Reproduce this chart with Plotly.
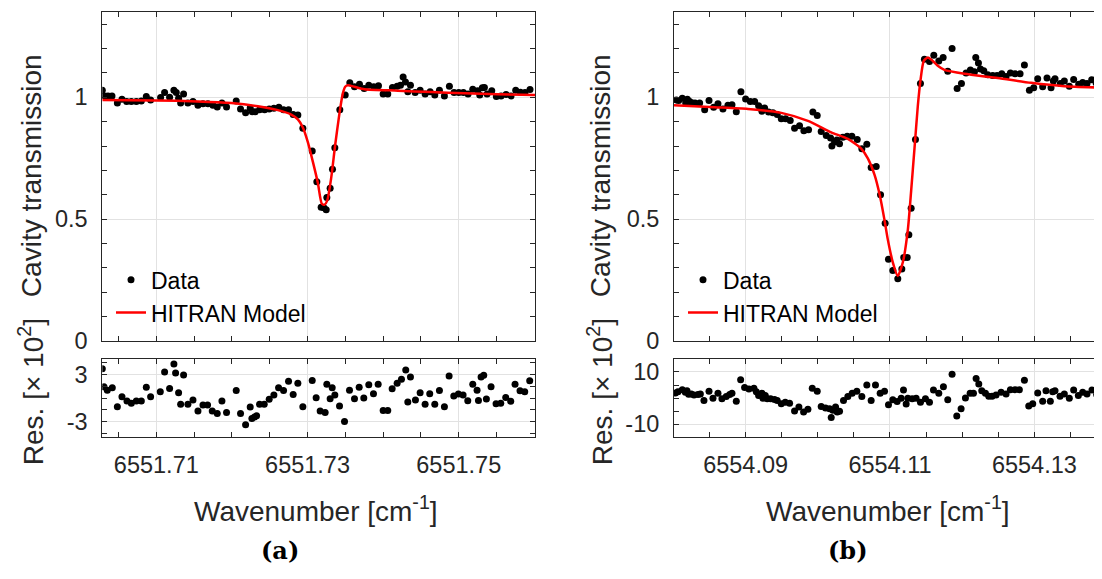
import plotly.graph_objects as go

# ---------------- data: panel (a) ----------------
a_x = [6551.70286, 6551.70317, 6551.70361, 6551.70414, 6551.70485, 6551.70546, 6551.70608, 6551.70670,
       6551.70736, 6551.70802, 6551.70868, 6551.70925, 6551.71057, 6551.71110, 6551.71176, 6551.71233,
       6551.71264, 6551.71295, 6551.71322, 6551.71361, 6551.71418, 6551.71485, 6551.71551, 6551.71617,
       6551.71683, 6551.71749, 6551.71806, 6551.71868, 6551.71929, 6551.72057, 6551.72114, 6551.72181,
       6551.72242, 6551.72269, 6551.72308, 6551.72366, 6551.72432, 6551.72493, 6551.72555, 6551.72621,
       6551.72683, 6551.72749, 6551.72810, 6551.72872, 6551.72938, 6551.73062, 6551.73123, 6551.73180,
       6551.73216, 6551.73247, 6551.73255, 6551.73299, 6551.73330, 6551.73361, 6551.73427, 6551.73498,
       6551.73559, 6551.73621, 6551.73687, 6551.73749, 6551.73810, 6551.73876, 6551.73938, 6551.74000,
       6551.74061, 6551.74123, 6551.74185, 6551.74229, 6551.74264, 6551.74295, 6551.74326, 6551.74361,
       6551.74423, 6551.74489, 6551.74555, 6551.74621, 6551.74683, 6551.74744, 6551.74810, 6551.74876,
       6551.74938, 6551.75000, 6551.75061, 6551.75123, 6551.75185, 6551.75251, 6551.75277, 6551.75312,
       6551.75339, 6551.75374, 6551.75436, 6551.75497, 6551.75559, 6551.75625, 6551.75691, 6551.75753,
       6551.75815, 6551.75876, 6551.75942]
a_y = [1.029, 1.005, 1.005, 1.005, 0.976, 0.992, 0.983, 0.983,
       0.983, 0.985, 1.003, 0.989, 0.999, 1.019, 1.000, 1.029,
       1.019, 0.996, 0.976, 1.013, 0.976, 0.983, 0.967, 0.973,
       0.973, 0.967, 0.960, 0.976, 0.960, 0.985, 0.952, 0.936,
       0.956, 0.941, 0.941, 0.949, 0.949, 0.952, 0.955, 0.959,
       0.949, 0.949, 0.929, 0.927, 0.873, 0.780, 0.653, 0.549,
       0.547, 0.539, 0.589, 0.627, 0.705, 0.793, 0.949, 1.009,
       1.059, 1.043, 1.053, 1.036, 1.049, 1.043, 1.047, 1.013,
       1.013, 1.040, 1.045, 1.049, 1.083, 1.063, 1.023, 1.049,
       1.019, 1.029, 1.013, 1.023, 1.009, 1.029, 1.005, 1.045,
       1.019, 1.019, 1.019, 1.013, 1.033, 1.027, 1.009, 1.039,
       1.040, 1.013, 1.027, 1.003, 1.005, 1.011, 1.005, 1.029,
       1.020, 1.019, 1.032]

a_model_x = [6551.70286, 6551.71000, 6551.71551, 6551.71991, 6551.72344, 6551.72608, 6551.72784,
             6551.72872, 6551.72938, 6551.73004, 6551.73070, 6551.73136, 6551.73189, 6551.73224,
             6551.73260, 6551.73313, 6551.73365, 6551.73423, 6551.73467, 6551.73498, 6551.73533,
             6551.73621, 6551.73753, 6551.74194, 6551.74634, 6551.75075, 6551.75515, 6551.76008]
a_model_y = [0.989, 0.987, 0.983, 0.976, 0.963, 0.947, 0.929,
             0.909, 0.876, 0.816, 0.736, 0.649, 0.563, 0.559,
             0.576, 0.669, 0.803, 0.936, 1.016, 1.043, 1.049,
             1.043, 1.033, 1.027, 1.021, 1.016, 1.012, 1.009]

a_res_x = [6551.70286, 6551.70308, 6551.70352, 6551.70418, 6551.70485, 6551.70546, 6551.70612, 6551.70670,
           6551.70736, 6551.70802, 6551.70868, 6551.70925, 6551.71053, 6551.71110, 6551.71176, 6551.71233,
           6551.71255, 6551.71295, 6551.71322, 6551.71361, 6551.71418, 6551.71485, 6551.71551, 6551.71617,
           6551.71678, 6551.71740, 6551.71806, 6551.71868, 6551.71929, 6551.72057, 6551.72114, 6551.72181,
           6551.72242, 6551.72264, 6551.72299, 6551.72326, 6551.72366, 6551.72427, 6551.72493, 6551.72555,
           6551.72617, 6551.72683, 6551.72749, 6551.72810, 6551.72872, 6551.72938, 6551.73062, 6551.73114,
           6551.73167, 6551.73233, 6551.73255, 6551.73299, 6551.73326, 6551.73361, 6551.73423, 6551.73489,
           6551.73555, 6551.73621, 6551.73683, 6551.73744, 6551.73810, 6551.73872, 6551.73934, 6551.74000,
           6551.74061, 6551.74119, 6551.74185, 6551.74242, 6551.74299, 6551.74326, 6551.74361, 6551.74427,
           6551.74489, 6551.74555, 6551.74616, 6551.74683, 6551.74744, 6551.74810, 6551.74872, 6551.74934,
           6551.74995, 6551.75057, 6551.75119, 6551.75185, 6551.75242, 6551.75260, 6551.75295, 6551.75330,
           6551.75365, 6551.75427, 6551.75493, 6551.75555, 6551.75621, 6551.75687, 6551.75744, 6551.75810,
           6551.75872, 6551.75938]
a_res_y = [3.76, 1.44, 1.01, 1.31, -1.10, 0.17, -0.38, -0.68,
           -0.38, -0.38, 1.39, 0.17, 0.80, 3.34, 1.23, 4.35,
           3.21, 0.68, -0.80, 2.96, -0.80, -0.25, -1.65, -0.89,
           -0.89, -1.65, -1.99, -0.38, -1.86, 0.97, -1.99, -3.42,
           -1.14, -2.62, -2.41, -2.28, -0.80, -0.80, -0.17, 0.38,
           1.31, 0.97, 2.15, 0.46, 1.90, -1.10, 2.24, 0.04,
           -1.65, -1.86, 1.77, -0.08, 1.31, 0.38, -1.01, -3.00,
           1.01, -0.08, 1.39, 0.00, 1.69, 0.55, 1.77, -1.60,
           -1.60, 1.18, 1.90, 2.41, 3.59, -0.51, 2.70, -0.25,
           0.68, -0.80, 0.55, -0.80, 0.97, -1.10, 2.83, 0.25,
           0.51, 0.38, -0.34, 1.77, 1.01, -0.30, 2.70, 2.92,
           -0.13, 1.44, -0.72, -0.68, 0.08, -0.42, 1.77, 0.93,
           0.80, 2.20]

# ---------------- data: panel (b) ----------------
b_x = [6554.08040, 6554.08073, 6554.08123, 6554.08170, 6554.08193, 6554.08225, 6554.08262, 6554.08299,
       6554.08363, 6554.08433, 6554.08493, 6554.08557, 6554.08617, 6554.08686, 6554.08755, 6554.08811,
       6554.08871, 6554.08935, 6554.09000, 6554.09065, 6554.09125, 6554.09180, 6554.09226, 6554.09263,
       6554.09318, 6554.09378, 6554.09438, 6554.09494, 6554.09554, 6554.09618, 6554.09678, 6554.09747,
       6554.09807, 6554.09872, 6554.09932, 6554.09992, 6554.10047, 6554.10117, 6554.10177, 6554.10195,
       6554.10232, 6554.10264, 6554.10301, 6554.10347, 6554.10407, 6554.10472, 6554.10546, 6554.10610,
       6554.10679, 6554.10739, 6554.10809, 6554.10869, 6554.10933, 6554.10979, 6554.11039, 6554.11108,
       6554.11164, 6554.11191, 6554.11238, 6554.11261, 6554.11293, 6554.11353, 6554.11422, 6554.11477,
       6554.11547, 6554.11607, 6554.11676, 6554.11736, 6554.11800, 6554.11860, 6554.11930, 6554.11990,
       6554.12054, 6554.12114, 6554.12170, 6554.12188, 6554.12225, 6554.12253, 6554.12299, 6554.12354,
       6554.12423, 6554.12483, 6554.12548, 6554.12608, 6554.12668, 6554.12732, 6554.12802, 6554.12862,
       6554.12931, 6554.12991, 6554.13046, 6554.13115, 6554.13175, 6554.13231, 6554.13263, 6554.13286,
       6554.13360, 6554.13415, 6554.13484, 6554.13544, 6554.13614, 6554.13669, 6554.13729, 6554.13794,
       6554.13854, 6554.13923, 6554.13978]
b_y = [0.989, 0.987, 0.996, 0.976, 0.992, 0.983, 0.976, 0.976,
       0.976, 0.949, 0.987, 0.959, 0.973, 0.952, 0.967, 0.969,
       0.941, 1.023, 0.993, 0.983, 0.983, 0.965, 0.943, 0.956,
       0.939, 0.936, 0.929, 0.912, 0.912, 0.905, 0.873, 0.883,
       0.863, 0.867, 0.939, 0.925, 0.859, 0.843, 0.833, 0.800,
       0.816, 0.825, 0.809, 0.836, 0.840, 0.840, 0.827, 0.789,
       0.807, 0.712, 0.716, 0.600, 0.483, 0.336, 0.289, 0.256,
       0.296, 0.343, 0.343, 0.436, 0.545, 0.827, 1.056, 1.156,
       1.147, 1.172, 1.149, 1.163, 1.107, 1.200, 1.036, 1.056,
       1.099, 1.112, 1.105, 1.163, 1.140, 1.116, 1.109, 1.092,
       1.089, 1.089, 1.096, 1.085, 1.099, 1.096, 1.096, 1.132,
       1.029, 1.039, 1.076, 1.043, 1.079, 1.039, 1.067, 1.076,
       1.056, 1.067, 1.045, 1.073, 1.053, 1.060, 1.056, 1.072,
       1.059, 1.067, 1.052]

b_model_x = [6554.08008, 6554.08571, 6554.09032, 6554.09494, 6554.09863, 6554.10186, 6554.10416,
             6554.10601, 6554.10693, 6554.10785, 6554.10855, 6554.10924, 6554.10970, 6554.11039,
             6554.11108, 6554.11178, 6554.11247, 6554.11293, 6554.11339, 6554.11385, 6554.11422,
             6554.11468, 6554.11524, 6554.11593, 6554.11662, 6554.11754, 6554.12031, 6554.12492,
             6554.12954, 6554.13415, 6554.14006]
b_model_y = [0.967, 0.959, 0.952, 0.936, 0.903, 0.856, 0.829,
             0.789, 0.749, 0.683, 0.603, 0.496, 0.416, 0.323,
             0.267, 0.323, 0.456, 0.616, 0.789, 0.963, 1.069,
             1.149, 1.163, 1.149, 1.129, 1.112, 1.096, 1.079,
             1.059, 1.045, 1.039]

b_res_x = [6554.08027, 6554.08063, 6554.08123, 6554.08165, 6554.08188, 6554.08211, 6554.08248, 6554.08285,
           6554.08340, 6554.08373, 6554.08423, 6554.08493, 6554.08548, 6554.08617, 6554.08672, 6554.08732,
           6554.08779, 6554.08811, 6554.08871, 6554.08931, 6554.08986, 6554.09046, 6554.09115, 6554.09148,
           6554.09180, 6554.09226, 6554.09240, 6554.09272, 6554.09300, 6554.09346, 6554.09401, 6554.09438,
           6554.09494, 6554.09549, 6554.09609, 6554.09678, 6554.09738, 6554.09803, 6554.09863, 6554.09923,
           6554.09992, 6554.10047, 6554.10107, 6554.10163, 6554.10186, 6554.10209, 6554.10246, 6554.10269,
           6554.10301, 6554.10356, 6554.10416, 6554.10476, 6554.10541, 6554.10610, 6554.10679, 6554.10739,
           6554.10799, 6554.10864, 6554.10924, 6554.10979, 6554.11039, 6554.11099, 6554.11155, 6554.11187,
           6554.11224, 6554.11247, 6554.11307, 6554.11362, 6554.11422, 6554.11491, 6554.11547, 6554.11602,
           6554.11676, 6554.11740, 6554.11800, 6554.11860, 6554.11925, 6554.11985, 6554.12045, 6554.12110,
           6554.12156, 6554.12193, 6554.12230, 6554.12271, 6554.12322, 6554.12368, 6554.12414, 6554.12469,
           6554.12539, 6554.12608, 6554.12668, 6554.12732, 6554.12792, 6554.12862, 6554.12922, 6554.12977,
           6554.13046, 6554.13115, 6554.13161, 6554.13221, 6554.13254, 6554.13286, 6554.13355, 6554.13415,
           6554.13484, 6554.13544, 6554.13609, 6554.13669, 6554.13729, 6554.13798, 6554.13863, 6554.13923,
           6554.13983]
b_res_y = [1.95, 2.45, 3.20, 2.20, 2.83, 1.45, 1.57, 1.19,
           1.32, 1.57, -0.94, 2.58, -0.06, 1.82, -0.31, 0.57,
           1.32, 1.82, -1.19, 6.98, 4.09, 3.46, 3.71, 2.45,
           0.94, 1.82, -0.06, 0.94, -0.31, -0.31, -0.57, -0.94,
           -2.20, -1.57, -1.95, -4.97, -3.46, -5.35, -4.34, 3.71,
           2.58, -3.21, -3.84, -4.09, -7.48, -4.72, -3.46, -5.35,
           -5.09, -0.94, 0.57, 1.82, 2.58, 0.57, 4.97, -0.94,
           4.97, 1.82, 2.58, -2.58, -0.69, -1.32, -0.06, 3.07,
           -2.33, -0.06, -0.31, -0.06, -1.57, -0.31, -1.57, 3.07,
           1.82, 4.34, -0.69, 9.12, -6.86, -4.09, 0.06, 1.82,
           1.82, 7.48, 5.35, 2.83, 1.82, 0.69, 0.69, 1.19,
           2.20, 1.57, 3.21, 3.21, 3.21, 6.86, -3.08, -2.20,
           1.95, -1.19, 2.83, -1.19, 2.45, 2.83, 0.69, 1.57,
           -0.06, 3.07, 0.94, 2.20, 1.57, 3.07, 1.32, 2.83,
           0.94]

a_xticks = [6551.71, 6551.73, 6551.75]
b_xticks = [6554.09, 6554.11, 6554.13]
top_yticks = [0, 0.5, 1]
top_yticklabels = ["0", "0.5", "1"]
a_res_ticks = [-3, 3]
a_res_ticklabels = ["-3", "3"]
b_res_ticks = [-10, 10]
b_res_ticklabels = ["-10", "10"]

# ---------------- layout helpers ----------------
W, H = 1102, 579
FONT = "Liberation Sans, Arial, sans-serif"
AX = "#262626"
GRID = "#e2e2e2"
MS = 7


def fx(p):
    return p / W


def fy(p):
    return 1 - p / H


fig = go.Figure()

# panel (a)
fig.add_trace(go.Scatter(x=a_x, y=a_y, mode="markers", name="Data",
                         marker=dict(color="black", size=MS), xaxis="x", yaxis="y", legend="legend"))
fig.add_trace(go.Scatter(x=a_model_x, y=a_model_y, mode="lines", name="HITRAN Model",
                         line=dict(color="#ff0000", width=2.5, shape="spline", smoothing=0.6),
                         xaxis="x", yaxis="y", legend="legend"))
fig.add_trace(go.Scatter(x=a_res_x, y=a_res_y, mode="markers", showlegend=False,
                         marker=dict(color="black", size=MS), xaxis="x2", yaxis="y2"))
# panel (b)
fig.add_trace(go.Scatter(x=b_x, y=b_y, mode="markers", name="Data",
                         marker=dict(color="black", size=MS), xaxis="x3", yaxis="y3", legend="legend2"))
fig.add_trace(go.Scatter(x=b_model_x, y=b_model_y, mode="lines", name="HITRAN Model",
                         line=dict(color="#ff0000", width=2.5, shape="spline", smoothing=0.6),
                         xaxis="x3", yaxis="y3", legend="legend2"))
fig.add_trace(go.Scatter(x=b_res_x, y=b_res_y, mode="markers", showlegend=False,
                         marker=dict(color="black", size=MS), xaxis="x4", yaxis="y4"))

common = dict(showline=True, linecolor=AX, linewidth=1, mirror="ticks", ticks="inside",
              ticklen=5, tickcolor=AX, tickwidth=1, showgrid=True, gridcolor=GRID, gridwidth=1,
              zeroline=False, tickfont=dict(family=FONT, size=23.5, color=AX))


def xaxis(rng, ticks, dom, anchor, labels):
    d = dict(common)
    d.update(range=rng, domain=dom, anchor=anchor, tickmode="array", tickvals=ticks,
             ticktext=[f"{t:.2f}" for t in ticks], showticklabels=labels, ticklabelstandoff=7,
             minor=dict(ticks="inside", ticklen=5, tickcolor=AX, dtick=0.005,
                        tick0=ticks[0], showgrid=False))
    return d


def yaxis(rng, ticks, texts, dom, anchor, mdt):
    d = dict(common)
    d.update(range=rng, domain=dom, anchor=anchor, tickmode="array", tickvals=ticks,
             ticktext=texts, ticklabelstandoff=9,
             minor=dict(ticks="inside", ticklen=5, tickcolor=AX, dtick=mdt, tick0=0, showgrid=False))
    return d


ax_dom = [fx(94.3), fx(527)]
bx_dom = [fx(666), fx(1099)]
top_dom = [fy(340.7), fy(4)]
res_dom = [fy(439), fy(359)]

a_rng = [6551.70286, 6551.76008]
b_rng = [6554.08008, 6554.14006]

fig.update_layout(
    width=W, height=H, margin=dict(l=0, r=0, t=0, b=0),
    paper_bgcolor="white", plot_bgcolor="white",
    font=dict(family=FONT, color=AX),
    xaxis=xaxis(a_rng, a_xticks, ax_dom, "y", False),
    yaxis=yaxis([0, 1.35], top_yticks, top_yticklabels, top_dom, "x", 0.1),
    xaxis2=xaxis(a_rng, a_xticks, ax_dom, "y2", True),
    yaxis2=yaxis([-5, 5], a_res_ticks, a_res_ticklabels, res_dom, "x2", 1.5),
    xaxis3=xaxis(b_rng, b_xticks, bx_dom, "y3", False),
    yaxis3=yaxis([0, 1.35], top_yticks, top_yticklabels, top_dom, "x3", 0.1),
    xaxis4=xaxis(b_rng, b_xticks, bx_dom, "y4", True),
    yaxis4=yaxis([-15, 15], b_res_ticks, b_res_ticklabels, res_dom, "x4", 5),
    legend=dict(x=fx(103), y=fy(256), xanchor="left", yanchor="top", bgcolor="rgba(0,0,0,0)",
                font=dict(family=FONT, size=23, color="black"), tracegroupgap=0),
    legend2=dict(x=fx(675), y=fy(256), xanchor="left", yanchor="top", bgcolor="rgba(0,0,0,0)",
                 font=dict(family=FONT, size=23, color="black"), tracegroupgap=0),
    showlegend=True,
)

ann = []
for cx in (23, 592):
    ann.append(dict(text="Cavity transmission", x=fx(cx), y=fy(172), xref="paper", yref="paper",
                    textangle=-90, showarrow=False, xanchor="center", yanchor="middle",
                    font=dict(family=FONT, size=28, color=AX)))
    ann.append(dict(text="Res. [× 10<sup>2</sup>]", x=fx(cx), y=fy(393), xref="paper", yref="paper",
                    textangle=-90, showarrow=False, xanchor="center", yanchor="middle",
                    font=dict(family=FONT, size=28, color=AX)))
for cx in (307.5, 879.5):
    ann.append(dict(text="Wavenumber [cm<sup>-1</sup>]", x=fx(cx), y=fy(512), xref="paper", yref="paper",
                    showarrow=False, xanchor="center", yanchor="middle",
                    font=dict(family=FONT, size=28, color=AX)))
for cx, t in ((272, "(a)"), (840, "(b)")):
    ann.append(dict(text=f"<b>{t}</b>", x=fx(cx), y=fy(555), xref="paper", yref="paper",
                    showarrow=False, xanchor="center", yanchor="middle",
                    font=dict(family="DejaVu Serif, serif", size=24, color="black")))
fig.update_layout(annotations=ann)

fig.write_html("out.html")
